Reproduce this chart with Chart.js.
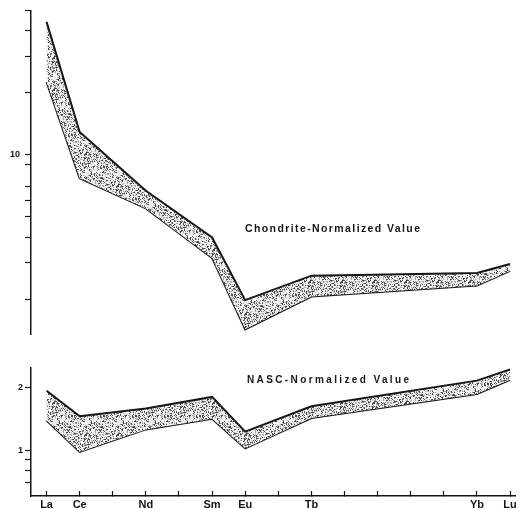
<!DOCTYPE html>
<html>
<head>
<meta charset="utf-8">
<script src="https://cdn.jsdelivr.net/npm/chart.js@4.4.1/dist/chart.umd.min.js"></script>
<style>
  body { margin: 0; background: #fff; }
  #wrap { position: relative; width: 527px; height: 509px; }
  #topChart { position: absolute; left: 0; top: 0; }
  #bottomChart { position: absolute; left: 0; top: 345px; }
</style>
</head>
<body>
<div id="wrap">
  <canvas id="topChart" width="527" height="345"></canvas>
  <canvas id="bottomChart" width="527" height="164"></canvas>
</div>
<script>
// rare earth elements and their atomic numbers (x positions)
const elements = ['La', 'Ce', 'Nd', 'Sm', 'Eu', 'Tb', 'Yb', 'Lu'];
const atomicNumbers = [57, 58, 60, 62, 63, 65, 70, 71];

// chondrite-normalized band (upper / lower edge)
const chondriteUpper = [44, 12.9, 6.7, 3.98, 1.98, 2.6, 2.68, 2.96];
const chondriteLower = [22.5, 7.7, 5.5, 3.17, 1.43, 2.06, 2.33, 2.74];

// NASC-normalized band
const nascUpper = [1.94, 1.46, 1.59, 1.81, 1.23, 1.63, 2.17, 2.46];
const nascLower = [1.39, 0.98, 1.26, 1.42, 1.02, 1.43, 1.87, 2.19];

// axis ticks
const topTicks = [2, 3, 4, 5, 6, 7, 9, 10, 20, 30, 40, 50];
const topTickLabels = { 10: '10' };
const bottomTicks = [0.7, 0.8, 0.9, 1, 2];
const bottomTickLabels = { 1: '1', 2: '2' };
const xTicks = [57, 58, 59, 60, 61, 62, 63, 64, 65, 66, 67, 68, 69, 70, 71];

const ink = '#161616';

function points(vals) {
  return vals.map((v, i) => ({ x: atomicNumbers[i], y: v }));
}

// stipple texture for the band (fixed hash, so it is the same every run)
function stipple() {
  const n = 32;
  const c = document.createElement('canvas');
  c.width = n; c.height = n;
  const g = c.getContext('2d');
  g.fillStyle = '#ededed';
  g.fillRect(0, 0, n, n);
  for (let y = 0; y < n; y++) {
    for (let x = 0; x < n; x++) {
      const h = ((x * 374761393) ^ (y * 668265263)) >>> 0;
      const k = ((h ^ (h >>> 13)) * 1274126177) >>> 0;
      const r = (k >>> 8) % 100;
      if (r < 22) { g.fillStyle = '#4a4a4a'; g.fillRect(x, y, 1, 1); }
      else if (r < 38) { g.fillStyle = '#a4a4a4'; g.fillRect(x, y, 1, 1); }
      else if (r > 85) { g.fillStyle = '#ffffff'; g.fillRect(x, y, 1, 1); }
    }
  }
  return g.createPattern(c, 'repeat');
}

function band(upper, lower) {
  const pat = stipple();
  return [
    { data: points(upper), borderColor: ink, borderWidth: 2, fill: '+1',
      backgroundColor: pat, pointRadius: 0, tension: 0 },
    { data: points(lower), borderColor: ink, borderWidth: 2, fill: false,
      pointRadius: 0, tension: 0 }
  ];
}

// caption inside the plot, stretched to the width it has in the figure
const captionPlugin = {
  id: 'caption',
  afterDraw(chart, args, opts) {
    const ctx = chart.ctx;
    ctx.save();
    ctx.font = 'bold ' + opts.size + 'px "Liberation Sans", Arial, sans-serif';
    ctx.letterSpacing = '0px';
    const w = ctx.measureText(opts.text).width;
    const gap = (opts.width - w) / (opts.text.length - 1);
    ctx.letterSpacing = gap.toFixed(2) + 'px';
    ctx.fillStyle = ink;
    ctx.textBaseline = 'middle';
    ctx.fillText(opts.text, opts.x, opts.y);
    ctx.restore();
  }
};

const tickFont = { family: '"Liberation Sans", Arial, sans-serif', size: 11, weight: 'bold' };
const xMin = 56.53, xMax = 71.15;

function yAxis(min, max, ticks, labels, pad) {
  return {
    type: 'logarithmic', min: min, max: max,
    afterBuildTicks: s => { s.ticks = ticks.map(v => ({ value: v })); },
    afterFit: s => { s.width = 31; },
    border: { display: true, color: ink, width: 1.5 },
    grid: { drawOnChartArea: false, drawTicks: true, tickLength: 6, tickColor: ink, tickWidth: 1.2 },
    ticks: { autoSkip: false, color: ink, font: { ...tickFont, size: 9 }, padding: pad,
      callback: v => labels[v] || '' }
  };
}

new Chart(document.getElementById('topChart'), {
  type: 'line',
  data: { datasets: band(chondriteUpper, chondriteLower) },
  options: {
    responsive: false, animation: false,
    layout: { padding: { top: 7, bottom: 8, left: 0, right: 12 } },
    plugins: { legend: { display: false }, tooltip: { enabled: false },
      caption: { text: 'Chondrite-Normalized Value', x: 245, y: 229, size: 10.5, width: 175 } },
    scales: {
      x: { type: 'linear', min: xMin, max: xMax, display: false },
      y: yAxis(1.348, 50, topTicks, topTickLabels, 5)
    }
  },
  plugins: [captionPlugin]
});

new Chart(document.getElementById('bottomChart'), {
  type: 'line',
  data: { datasets: band(nascUpper, nascLower) },
  options: {
    responsive: false, animation: false,
    layout: { padding: { top: 23, bottom: 0, left: 0, right: 12 } },
    plugins: { legend: { display: false }, tooltip: { enabled: false },
      caption: { text: 'NASC-Normalized Value', x: 247, y: 35, size: 10, width: 162 } },
    scales: {
      x: {
        type: 'linear', min: xMin, max: xMax,
        afterBuildTicks: s => { s.ticks = xTicks.map(v => ({ value: v })); },
        afterFit: s => { s.height = 13; },
        border: { display: true, color: ink, width: 1.5 },
        grid: { drawOnChartArea: false, drawTicks: true, tickLength: -5, tickColor: ink, tickWidth: 1.2 },
        ticks: { autoSkip: false, maxRotation: 0, color: ink, font: tickFont, padding: 7,
          callback: v => {
            const i = atomicNumbers.indexOf(v);
            return i >= 0 ? elements[i] : '';
          } }
      },
      y: yAxis(0.6057, 2.498, bottomTicks, bottomTickLabels, 2)
    }
  },
  plugins: [captionPlugin]
});
</script>
</body>
</html>
